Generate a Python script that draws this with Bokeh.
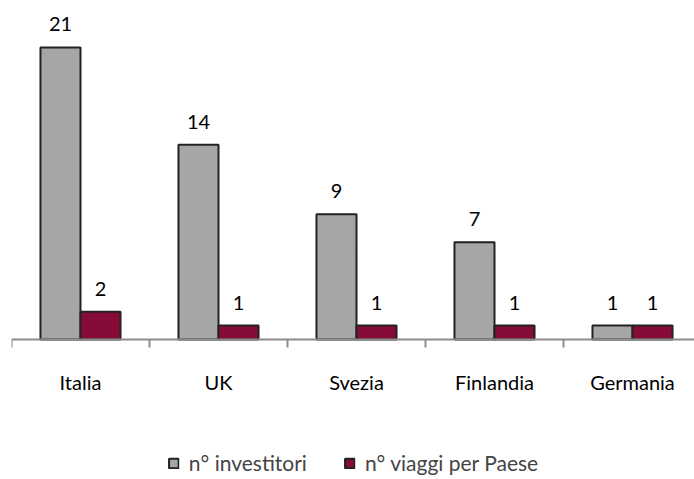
from bokeh.plotting import figure
from bokeh.models import Range1d, FixedTicker, ColumnDataSource, LabelSet, Legend, LegendItem, LinearAxis
from bokeh.core.properties import value
from bokeh.embed import file_html
from bokeh.resources import INLINE

countries = ["Italia", "UK", "Svezia", "Finlandia", "Germania"]
investitori = [21, 14, 9, 7, 1]
viaggi = [2, 1, 1, 1, 1]
series_names = ["n° investitori", "n° viaggi per Paese"]

GREY = "#a6a6a6"
MAROON = "#870b39"
FONT = "Lato"
FS = "20px"
PX = 13.905  # pixels per unit

centers = [i + 0.5 for i in range(len(countries))]
off = 0.145
w = 0.29

src_a = ColumnDataSource(dict(x=[c - off for c in centers], top=investitori,
                              lab=[str(v) for v in investitori]))
src_b = ColumnDataSource(dict(x=[c + off for c in centers], top=viaggi,
                              lab=[str(v) for v in viaggi]))

p = figure(frame_width=683, frame_height=471, output_backend="svg", toolbar_location=None,
           x_range=Range1d(0, 683 / 138), y_range=Range1d(-140 / PX, 331 / PX),
           x_axis_location=None, y_axis_location=None,
           min_border_left=11, min_border_right=0, min_border_top=8, min_border_bottom=0,
           outline_line_color=None)
p.ygrid.visible = False
p.xgrid.visible = False

ra = p.vbar(x="x", top="top", bottom=0, width=w, source=src_a, fill_color=GREY,
            line_color="#222222", line_width=2)
rb = p.vbar(x="x", top="top", bottom=0, width=w, source=src_b, fill_color=MAROON,
            line_color="#222222", line_width=2)

for s in (src_a, src_b):
    p.add_layout(LabelSet(x="x", y="top", text="lab", source=s, y_offset=16,
                          text_align="center", text_font=value(FONT),
                          text_font_size=FS, text_color="black"))

ax = LinearAxis(fixed_location=0)
ax.ticker = FixedTicker(ticks=centers, minor_ticks=list(range(len(countries) + 1)))
ax.major_label_overrides = {c: n for c, n in zip(centers, countries)}
ax.major_tick_line_color = None
ax.minor_tick_out = 8
ax.minor_tick_in = 0
ax.minor_tick_line_color = "#8c8c8c"
ax.minor_tick_line_width = 2
ax.axis_line_color = "#8c8c8c"
ax.axis_line_width = 2
ax.major_label_text_font = FONT
ax.major_label_text_font_size = FS
ax.major_label_text_color = "black"
ax.major_label_standoff = 22
p.add_layout(ax, "below")

legend = Legend(items=[LegendItem(label=series_names[0], renderers=[ra]),
                       LegendItem(label=series_names[1], renderers=[rb])],
                orientation="horizontal", location="bottom_center",
                label_text_font=FONT, label_text_font_size="21px",
                glyph_width=12, glyph_height=12, spacing=36,
                border_line_color=None, background_fill_alpha=0,
                margin=4, padding=0, label_standoff=10)
p.add_layout(legend, "center")

open("out.html", "w").write(file_html(p, INLINE))
